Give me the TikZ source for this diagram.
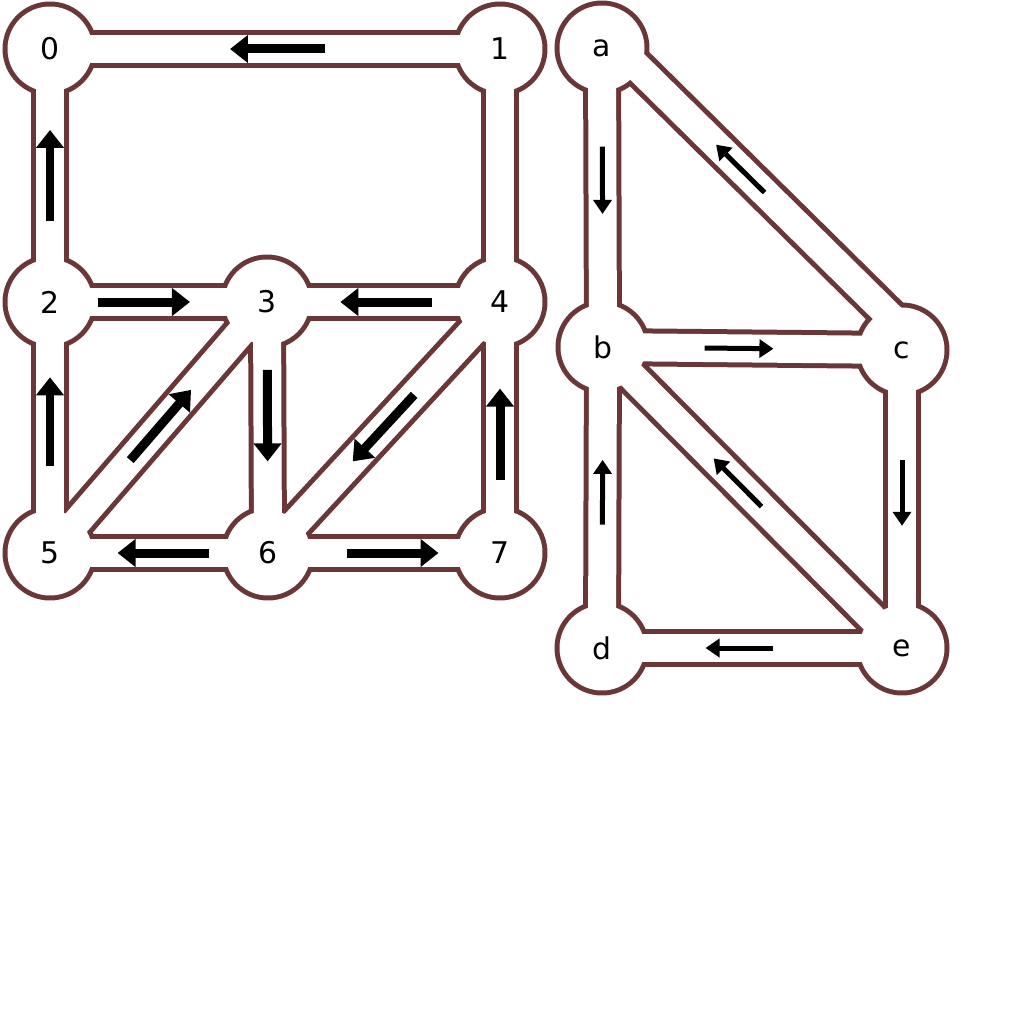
\documentclass[tikz,border=0pt]{standalone}
\usepackage{fontspec}
\setmainfont{DejaVu Sans}
\usepackage{xcolor}
\definecolor{mybrown}{RGB}{107,54,56}
\usetikzlibrary{calc}
\usetikzlibrary{arrows.meta}
\pgfdeclarelayer{pipeback}
\pgfdeclarelayer{pipefront}
\pgfsetlayers{pipeback,pipefront,main}
\tikzset{
  hub/.style={circle, inner sep=0pt, minimum size=1.7cm, font=\fontsize{17}{20}\selectfont},
  outerpipe/.style={mybrown, line width=0.76cm},
  innerpipe/.style={white, line width=0.56cm},
  bigflow/.style={line width=0.18cm, -{Triangle[width=0.54cm,length=0.36cm]}},
  smallflow/.style={line width=0.1cm, -{Triangle[width=0.36cm,length=0.28cm]}}
}

\begin{document}
\begin{tikzpicture}[x=0.02cm,y=-0.02cm]
        \useasboundingbox (0,0) rectangle (1024,1024);
        % left graph
        \node[hub] (n0) at (50,49) {0};
        \node[hub] (n1) at (500,49) {1};
        \node[hub] (n2) at (50,302) {2};
        \node[hub] (n3) at (267,302) {3};
        \node[hub] (n4) at (500,302) {4};
        \node[hub] (n5) at (50,553) {5};
        \node[hub] (n6) at (268,553) {6};
        \node[hub] (n7) at (500,553) {7};
        % right graph
        \node[hub] (na) at (602,48) {a};
        \node[hub] (nb) at (603,347) {b};
        \node[hub] (nc) at (902,350) {c};
        \node[hub] (nd) at (602,648) {d};
        \node[hub] (ne) at (902,648) {e};
        \coordinate (ac1) at ($(na)+(8,-8)$);
        \coordinate (ac2) at ($(nc)+(11,-11)$);

        \begin{pgfonlayer}{pipeback}
          \foreach \u/\v in {n0/n1,n0/n2,n1/n4,n2/n3,n3/n4,n2/n5,n3/n5,n3/n6,n4/n6,n4/n7,n5/n6,n6/n7,na/nb,nb/nc,nb/nd,nb/ne,nc/ne,nd/ne}
            \draw[outerpipe] (\u.center) -- (\v.center);
          \draw[outerpipe] (ac1) -- (ac2);
          \foreach \n in {n0,n1,n2,n3,n4,n5,n6,n7,na,nb,nc,nd,ne}
            \fill[mybrown] (\n.center) circle [radius=0.95cm];
        \end{pgfonlayer}
        \begin{pgfonlayer}{pipefront}
          \foreach \u/\v in {n0/n1,n0/n2,n1/n4,n2/n3,n3/n4,n2/n5,n3/n5,n3/n6,n4/n6,n4/n7,n5/n6,n6/n7,na/nb,nb/nc,nb/nd,nb/ne,nc/ne,nd/ne}
            \draw[innerpipe] (\u.center) -- (\v.center);
          \draw[innerpipe] (ac1) -- (ac2);
          \foreach \n in {n0,n1,n2,n3,n4,n5,n6,n7,na,nb,nc,nd,ne}
            \fill[white] (\n.center) circle [radius=0.85cm];
        \end{pgfonlayer}

        % flow on the left
        \draw[bigflow] ($(n1)!0.39!(n0)$) -- ($(n1)!0.60!(n0)$);
        \draw[bigflow] ($(n2)!0.32!(n0)$) -- ($(n2)!0.68!(n0)$);
        \draw[bigflow] ($(n2)!0.22!(n3)$) -- ($(n2)!0.645!(n3)$);
        \draw[bigflow] ($(n4)!0.29!(n3)$) -- ($(n4)!0.685!(n3)$);
        \draw[bigflow] ($(n5)!0.345!(n2)$) -- ($(n5)!0.70!(n2)$);
        \draw[bigflow] ($(n5)!0.37!(n3)$) -- ($(n5)!0.65!(n3)$);
        \draw[bigflow] ($(n3)!0.27!(n6)$) -- ($(n3)!0.635!(n6)$);
        \draw[bigflow] ($(n4)!0.37!(n6)$) -- ($(n4)!0.635!(n6)$);
        \draw[bigflow] ($(n7)!0.29!(n4)$) -- ($(n7)!0.655!(n4)$);
        \draw[bigflow] ($(n6)!0.27!(n5)$) -- ($(n6)!0.69!(n5)$);
        \draw[bigflow] ($(n6)!0.34!(n7)$) -- ($(n6)!0.735!(n7)$);

        % flow on the right
        \draw[smallflow] ($(na)!0.33!(nb)$) -- ($(na)!0.555!(nb)$);
        \draw[smallflow] ($(ac2)!0.49!(ac1)$) -- ($(ac2)!0.65!(ac1)$);
        \draw[smallflow] ($(nb)!0.34!(nc)$) -- ($(nb)!0.57!(nc)$);
        \draw[smallflow] ($(nc)!0.37!(ne)$) -- ($(nc)!0.59!(ne)$);
        \draw[smallflow] ($(ne)!0.47!(nb)$) -- ($(ne)!0.63!(nb)$);
        \draw[smallflow] ($(nd)!0.41!(nb)$) -- ($(nd)!0.625!(nb)$);
        \draw[smallflow] ($(ne)!0.43!(nd)$) -- ($(ne)!0.655!(nd)$);
\end{tikzpicture}
\end{document}
